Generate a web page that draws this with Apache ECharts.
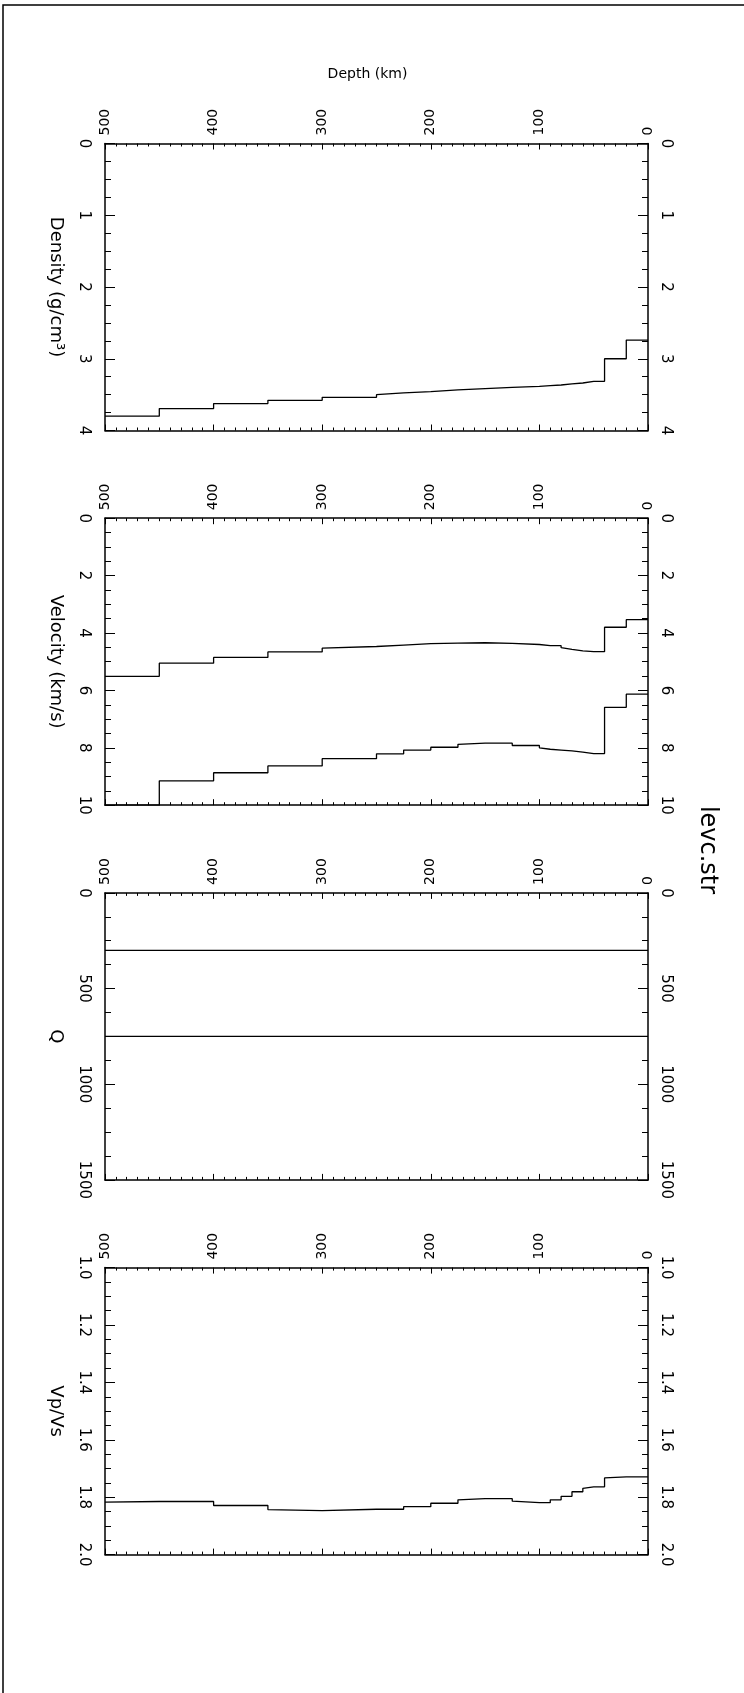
<!DOCTYPE html>
<html><head><meta charset="utf-8">
<script src="https://cdn.jsdelivr.net/npm/echarts@6/dist/echarts.min.js"></script>
<style>html,body{margin:0;padding:0;background:#fff}#c{width:744px;height:1693px}</style>
</head><body><div id="c"></div>
<script>
// Layer top depths (km); last layer ends at depthBottom
const depthTop = [0, 20, 40, 50, 60, 70, 80, 90, 100, 125, 150, 175, 200, 225, 250, 300, 350, 400, 450];
const depthBottom = 500;
const density = [2.74, 3.00, 3.315, 3.338, 3.35, 3.366, 3.375, 3.384, 3.398, 3.417, 3.435, 3.458, 3.477, 3.50, 3.537, 3.579, 3.625, 3.694, 3.80];
const vs = [3.535, 3.80, 4.65, 4.62, 4.57, 4.51, 4.44, 4.40, 4.36, 4.34, 4.35, 4.37, 4.42, 4.47, 4.53, 4.66, 4.85, 5.05, 5.51];
const vp = [6.13, 6.59, 8.20, 8.15, 8.11, 8.08, 8.05, 8.00, 7.92, 7.84, 7.88, 7.98, 8.08, 8.21, 8.38, 8.63, 8.87, 9.15, 10.0];
const qs = [300, 300, 300, 300, 300, 300, 300, 300, 300, 300, 300, 300, 300, 300, 300, 300, 300, 300, 300];
const qp = [750, 750, 750, 750, 750, 750, 750, 750, 750, 750, 750, 750, 750, 750, 750, 750, 750, 750, 750];
const vpvs = [1.729, 1.733, 1.764, 1.769, 1.781, 1.797, 1.809, 1.819, 1.814, 1.805, 1.809, 1.821, 1.833, 1.842, 1.847, 1.843, 1.829, 1.815, 1.817];

const depthTicks = {min: 0, max: 500, interval: 100};
const panelNames = ['Density (g/cm³)', 'Velocity (km/s)', 'Q', 'Vp/Vs'];
const panelRanges = [[0, 4, 1], [0, 10, 2], [0, 1500, 500], [1.0, 2.0, 0.2]];
const panelSeries = [[density], [vs, vp], [qs, qp], [vpvs]];
const panelFmt = [v => String(Math.round(v)), v => String(Math.round(v)), v => String(Math.round(v)), v => v.toFixed(1)];
const titleText = 'levc.str';

const FONT = 'DejaVu Sans';
const TOP0 = 143.5, STEP = 374.7, H = 287, LEFT = 105, W = 543;

function steps(vals) {
  const d = depthTop.map((z, i) => [z, vals[i]]);
  d.push([depthBottom, vals[vals.length - 1]]);
  return d;
}

const lineAxis = {show: true, onZero: false, lineStyle: {color: '#000', width: 1.5}};
const grids = [], xAxes = [], yAxes = [], series = [];

panelNames.forEach((name, i) => {
  grids.push({left: LEFT, width: W, top: TOP0 + i * STEP, height: H});
  const [mn, mx, iv] = panelRanges[i];
  ['top', 'bottom'].forEach(pos => {
    xAxes.push({
      gridIndex: i, type: 'value', position: pos, inverse: true,
      min: depthTicks.min, max: depthTicks.max, interval: depthTicks.interval,
      axisLine: lineAxis,
      axisTick: {show: true, inside: true, length: 6, lineStyle: {color: '#000', width: 1}},
      minorTick: {show: true, splitNumber: 10, length: 3, lineStyle: {color: '#000', width: 1}},
      splitLine: {show: false},
      axisLabel: {show: pos === 'top', rotate: -90, margin: 8, color: '#000', fontFamily: FONT, fontSize: 14,
        formatter: v => String(Math.round(v)), showMinLabel: true, showMaxLabel: true, hideOverlap: false},
      name: (pos === 'top' && i === 0) ? 'Depth (km)' : '',
      nameLocation: 'middle', nameGap: 62,
      nameTextStyle: {color: '#000', fontFamily: FONT, fontSize: 14, padding: [0, 18, 0, 0]}
    });
  });
  ['left', 'right'].forEach(pos => {
    yAxes.push({
      gridIndex: i, type: 'value', position: pos, inverse: true,
      min: mn, max: mx, interval: iv,
      axisLine: lineAxis,
      axisTick: {show: true, inside: true, length: 10, lineStyle: {color: '#000', width: 1}},
      minorTick: {show: true, splitNumber: 4, length: 6, lineStyle: {color: '#000', width: 1}},
      splitLine: {show: false},
      axisLabel: {show: true, rotate: -90, margin: pos === 'left' ? 14 : 10, color: '#000', fontFamily: FONT, fontSize: 15,
        formatter: panelFmt[i], showMinLabel: true, showMaxLabel: true, hideOverlap: false},
      name: pos === 'left' ? name : '',
      nameLocation: 'middle', nameRotate: -90, nameGap: 40,
      nameTextStyle: {color: '#000', fontFamily: FONT, fontSize: 18}
    });
  });
  panelSeries[i].forEach(vals => {
    series.push({
      type: 'line', xAxisIndex: i * 2, yAxisIndex: i * 2, step: 'end',
      data: steps(vals), showSymbol: false, symbol: 'none', clip: true,
      lineStyle: {color: '#000', width: 1.3}, silent: true
    });
  });
});

const chart = echarts.init(document.getElementById('c'), null, {renderer: 'canvas'});
chart.setOption({
  animation: false,
  backgroundColor: '#fff',
  grid: grids, xAxis: xAxes, yAxis: yAxes, series: series,
  graphic: [
    {type: 'rect', shape: {x: 3, y: 5, width: 800, height: 1800}, style: {fill: 'none', stroke: '#000', lineWidth: 1.5}, silent: true},
    {type: 'text', x: 707, y: 850, rotation: -Math.PI / 2,
     style: {text: titleText, fontSize: 24, fontFamily: FONT, fill: '#000', align: 'center', verticalAlign: 'middle'}}
  ]
});
</script></body></html>
